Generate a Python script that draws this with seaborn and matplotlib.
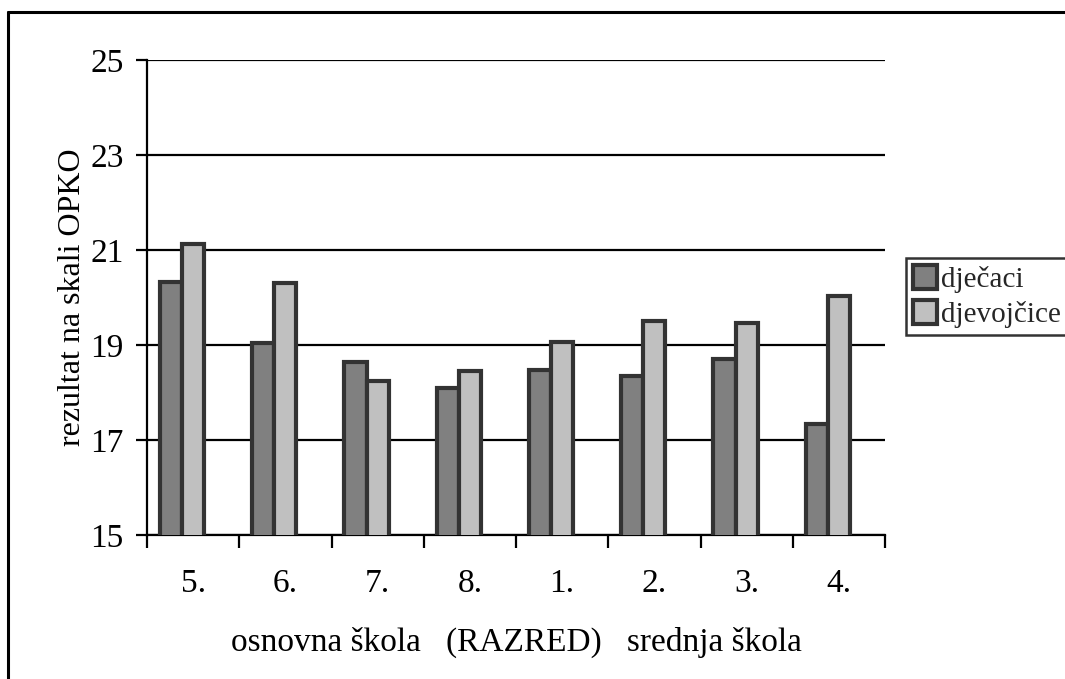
import numpy as np
import pandas as pd
import matplotlib
matplotlib.use("Agg")
import matplotlib.pyplot as plt
import seaborn as sns
from matplotlib.patches import Patch
from matplotlib.lines import Line2D

# data
razredi = ["5.", "6.", "7.", "8.", "1.", "2.", "3.", "4."]
djecaci = [20.33, 19.05, 18.65, 18.09, 18.48, 18.35, 18.70, 17.33]
djevojcice = [21.12, 20.30, 18.25, 18.46, 19.06, 19.50, 19.47, 20.04]
serije = ["dječaci", "djevojčice"]

boje = ["#808080", "#c0c0c0", "#ffffff"]
rub = "#333333"


def main():
    df = pd.DataFrame({
        "razred": razredi * 2,
        "rezultat": djecaci + djevojcice,
        "spol": [serije[0]] * len(razredi) + [serije[1]] * len(razredi),
    })

    sns.set_style("white")
    plt.rcParams["font.family"] = ["Liberation Serif", "DejaVu Serif"]

    fig = plt.figure(figsize=(10.65, 6.79), dpi=100)
    ax = fig.add_axes([147 / 1065, 1 - 535 / 679, (885 - 147) / 1065, (535 - 60) / 679])

    # third (empty) slot mimics the spreadsheet layout with a blank series
    sns.barplot(data=df, x="razred", y="rezultat", hue="spol",
                order=razredi, hue_order=serije + [" "], palette=boje,
                width=0.72, gap=0, edgecolor=rub, linewidth=3,
                legend=False, ax=ax, zorder=3)

    ax.set_ylim(15, 25)
    ax.set_xlim(-0.5, len(razredi) - 0.5)
    ax.set_yticks(np.arange(15, 26, 2))
    ax.grid(axis="y", color="black", linewidth=1.6, zorder=0)
    ax.set_axisbelow(True)

    for s in ["top", "right"]:
        ax.spines[s].set_visible(False)
    for s in ["left", "bottom"]:
        ax.spines[s].set_color("black")
        ax.spines[s].set_linewidth(1.6)

    ax.tick_params(axis="y", direction="out", length=8, width=1.6,
                   left=True, labelsize=24, pad=9, colors="black")
    ax.tick_params(axis="x", which="major", length=0, labelsize=24, pad=24,
                   colors="black")
    ax.set_xticks(np.arange(-0.5, len(razredi)), minor=True)
    ax.tick_params(axis="x", which="minor", direction="out", length=9,
                   width=1.6, bottom=True, color="black")

    ax.set_xlabel("osnovna škola   (RAZRED)   srednja škola", fontsize=24,
                  labelpad=20, color="black")
    ax.set_ylabel("rezultat na skali OPKO", fontsize=23, labelpad=2,
                  color="black")

    handles = [Patch(facecolor=boje[i], edgecolor=rub, linewidth=3, label=serije[i])
               for i in range(2)]
    leg = fig.legend(handles=handles, loc="upper left",
                     bbox_to_anchor=(906 / 1065, 1 - 258 / 679),
                     fontsize=21, frameon=True, fancybox=False,
                     edgecolor="black", handlelength=0.8, handleheight=0.85,
                     handletextpad=0.15, borderpad=0.25, labelspacing=0.25,
                     borderaxespad=0)
    leg.get_frame().set_linewidth(1.8)

    # outer frame of the picture (only left and top edges are visible)
    bx = 8 / 1065
    by = 1 - 12 / 679
    fig.add_artist(Line2D([bx, bx], [0, by], color="black", linewidth=2.2))
    fig.add_artist(Line2D([bx, 1], [by, by], color="black", linewidth=2.2))

    fig.savefig("out.png", dpi=100, facecolor="white")


if __name__ == "__main__":
    main()
